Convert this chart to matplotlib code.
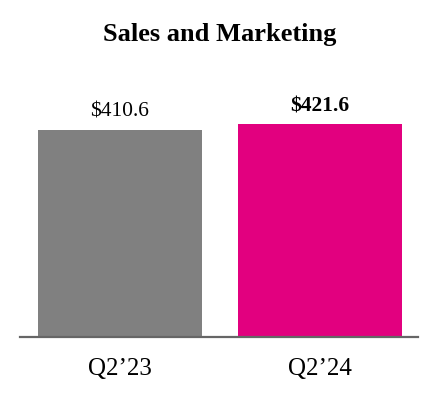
import matplotlib
matplotlib.use("Agg")
import matplotlib.pyplot as plt

plt.rcParams['font.family'] = ['Liberation Serif', 'DejaVu Serif']

periods = ["Q2\u201923", "Q2\u201924"]
values = [410.6, 421.6]
labels = ["$410.6", "$421.6"]
colors = ["#808080", "#E2007F"]
weights = ["normal", "bold"]

fig = plt.figure(figsize=(4.4, 4.0), dpi=100)
ax = fig.add_axes([0.045, 0.1575, 0.905, 0.5925])

x = range(len(periods))
bars = ax.bar(x, values, width=0.82, color=colors)

for b, lab, w in zip(bars, labels, weights):
    ax.annotate(lab, (b.get_x() + b.get_width() / 2, b.get_height()),
                xytext=(0, 6), textcoords="offset points",
                ha="center", va="bottom", fontsize=15.5, fontweight=w)

ax.set_xlim(-0.5, 1.49)
ax.set_ylim(0, 470)
ax.set_xticks(list(x))
ax.set_xticklabels(periods, fontsize=18)
ax.tick_params(axis="x", length=0, pad=15)
ax.set_yticks([])
for s in ["top", "right", "left"]:
    ax.spines[s].set_visible(False)
ax.spines["bottom"].set_color("#666666")
ax.spines["bottom"].set_linewidth(1.6)

fig.text(0.5, 0.915, "Sales and Marketing", ha="center", va="center",
         fontsize=19, fontweight="bold")

fig.savefig("out.png", dpi=100)
